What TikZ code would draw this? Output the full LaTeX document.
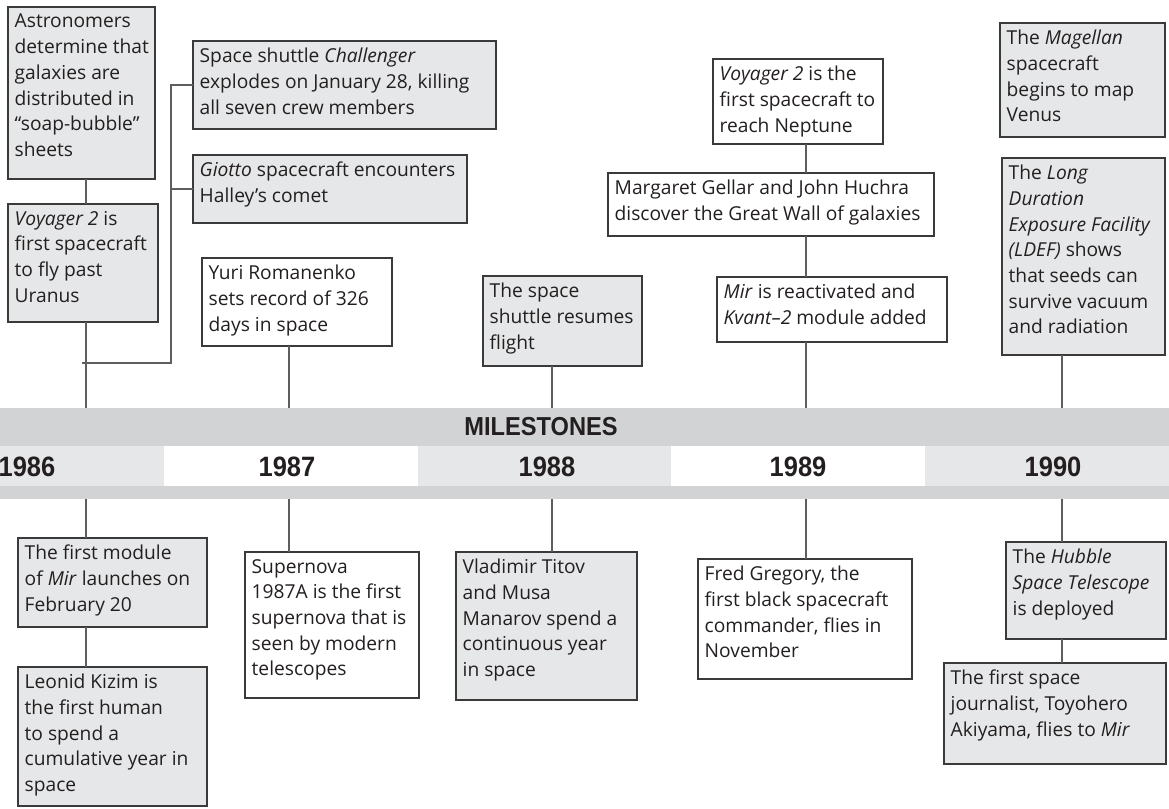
\documentclass[tikz,border=0pt]{standalone}
\usepackage{fontspec}
\setmainfont{Open Sans}
\newfontfamily\headfont{Liberation Sans}[FakeStretch=0.91]
\usetikzlibrary{calc}

\definecolor{ink}{HTML}{231F20}
\definecolor{boxline}{HTML}{3A3A3A}
\definecolor{linkgrey}{HTML}{5E5E5E}
\definecolor{boxgrey}{HTML}{E6E7E8}
\definecolor{banddark}{HTML}{D1D3D4}
\definecolor{bandlight}{HTML}{E6E7E8}

% one event box: name, fill style, left, top, right, bottom, text
\newcommand\tlbox[7]{%
  \node[#2, minimum width={#5-#3}, minimum height={#6-#4}] (#1) at (#3,#4) {};
  \node[txt] (#1-t) at ([xshift=6.5pt,yshift=-7pt]#1.north west) {#7};
}

\begin{document}
\begin{tikzpicture}[x=1pt, y=-1pt,
  box/.style={draw=boxline, line width=1.2pt, anchor=north west, inner sep=0pt, outer sep=0pt},
  gbox/.style={box, fill=boxgrey},
  wbox/.style={box, fill=white},
  txt/.style={anchor=north west, inner sep=0pt, align=left, text=ink,
    font=\fontsize{19.2}{25.7}\selectfont},
  link/.style={draw=linkgrey, line width=1.3pt},
  yearlbl/.style={text=ink, inner sep=0pt, font=\headfont\bfseries\fontsize{28}{30}\selectfont},
  headlbl/.style={text=ink, inner sep=0pt, font=\headfont\bfseries\fontsize{26}{28}\selectfont}]

\useasboundingbox (0,0) rectangle (1169,808);
\clip (0,0) rectangle (1169,808);

% milestone band
\fill[banddark] (-10,408) rectangle (1179,499);
\fill[bandlight] (-90,446) rectangle (164,486);
\fill[white]     (164,446) rectangle (418,486);
\fill[bandlight] (418,446) rectangle (671,486);
\fill[white]     (671,446) rectangle (925,486);
\fill[bandlight] (925,446) rectangle (1179,486);

\node[headlbl] (head) at (541,427) {MILESTONES};
\node[yearlbl] (y86) at (27,467) {1986};
\node[yearlbl] (y87) at (287,467) {1987};
\node[yearlbl] (y88) at (547,467) {1988};
\node[yearlbl] (y89) at (798,467) {1989};
\node[yearlbl] (y90) at (1053,467) {1990};

% where the connectors meet the band
\coordinate (c86t) at (86,408);   \coordinate (c86b) at (86,499);
\coordinate (c289t) at (289,408); \coordinate (c289b) at (289,499);
\coordinate (c552t) at (552,408); \coordinate (c552b) at (552,499);
\coordinate (c806t) at (806,408); \coordinate (c806b) at (806,499);
\coordinate (c1062t) at (1062,408); \coordinate (c1062b) at (1062,499);
\coordinate (brk) at (171,363);
\coordinate (brkend) at (82,363);

% events above the band
\tlbox{astro}{gbox}{8}{7}{155}{179}{Astronomers\\determine that\\galaxies are\\distributed in\\“soap-bubble”\\sheets}
\tlbox{uranus}{gbox}{8}{204}{158}{322}{\textit{Voyager 2} is\\first spacecraft\\to fly past\\Uranus}
\tlbox{chal}{gbox}{193}{41}{496}{129}{Space shuttle \textit{Challenger}\\explodes on January 28, killing\\all seven crew members}
\tlbox{giotto}{gbox}{193}{155}{467}{223}{\textit{Giotto} spacecraft encounters\\Halley’s comet}
\tlbox{yuri}{wbox}{202}{258}{392}{346}{Yuri Romanenko\\sets record of 326\\days in space}
\tlbox{resume}{gbox}{483}{276}{642}{366}{The space\\shuttle resumes\\flight}
\tlbox{neptune}{wbox}{713}{59}{883}{144}{\textit{Voyager 2} is the\\first spacecraft to\\reach Neptune}
\tlbox{wall}{wbox}{608}{173}{934}{236}{Margaret Gellar and John Huchra\\discover the Great Wall of galaxies}
\tlbox{kvant}{wbox}{717}{277}{947}{342}{\textit{Mir} is reactivated and\\\textit{Kvant–2} module added}
\tlbox{magellan}{gbox}{1000}{23}{1165}{137}{The \textit{Magellan}\\spacecraft\\begins to map\\Venus}
\tlbox{ldef}{gbox}{1002}{158}{1165}{355}{The \textit{Long}\\\textit{Duration}\\\textit{Exposure Facility}\\\textit{(LDEF)} shows\\that seeds can\\survive vacuum\\and radiation}

% events below the band
\tlbox{mirlaunch}{gbox}{18}{538}{207}{627}{The first module\\of \textit{Mir} launches on\\February 20}
\tlbox{kizim}{gbox}{18}{667}{207}{806}{Leonid Kizim is\\the first human\\to spend a\\cumulative year in\\space}
\tlbox{supernova}{wbox}{245}{552}{419}{698}{Supernova\\1987A is the first\\supernova that is\\seen by modern\\telescopes}
\tlbox{titov}{gbox}{456}{552}{637}{700}{Vladimir Titov\\and Musa\\Manarov spend a\\continuous year\\in space}
\tlbox{gregory}{wbox}{698}{559}{912}{679}{Fred Gregory, the\\first black spacecraft\\commander, flies in\\November}
\tlbox{hubble}{gbox}{1006}{542}{1166}{639}{The \textit{Hubble}\\\textit{Space Telescope}\\is deployed}
\tlbox{akiyama}{gbox}{944}{663}{1166}{764}{The first space\\journalist, Toyohero\\Akiyama, flies to \textit{Mir}}

% connectors above the band
\draw[link] (astro.south -| c86t) -- (uranus.north -| c86t);
\draw[link] (uranus.south -| c86t) -- (c86t);
\draw[link] (chal.west) -| (brk) -- (brkend);
\draw[link] (giotto.west) -- (giotto.west -| brk);
\draw[link] (yuri.south -| c289t) -- (c289t);
\draw[link] (resume.south -| c552t) -- (c552t);
\draw[link] (neptune.south -| c806t) -- (wall.north -| c806t);
\draw[link] (wall.south -| c806t) -- (kvant.north -| c806t);
\draw[link] (kvant.south -| c806t) -- (c806t);
\draw[link] (ldef.south -| c1062t) -- (c1062t);

% connectors below the band
\draw[link] (c86b) -- (mirlaunch.north -| c86b);
\draw[link] (mirlaunch.south -| c86b) -- (kizim.north -| c86b);
\draw[link] (c289b) -- (supernova.north -| c289b);
\draw[link] (c552b) -- (titov.north -| c552b);
\draw[link] (c806b) -- (gregory.north -| c806b);
\draw[link] (c1062b) -- (hubble.north -| c1062b);
\draw[link] (hubble.south -| c1062b) -- (akiyama.north -| c1062b);

\end{tikzpicture}
\end{document}
